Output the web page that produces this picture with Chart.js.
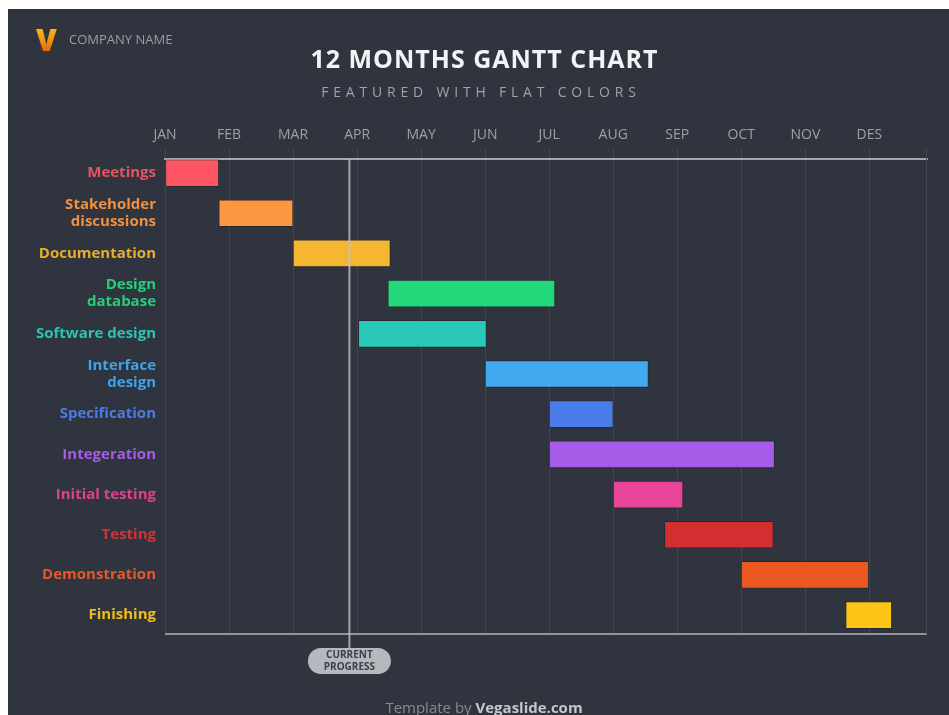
<!DOCTYPE html>
<html>
<head>
<meta charset="utf-8">
<title>12 Months Gantt Chart</title>
<script src="https://cdn.jsdelivr.net/npm/chart.js@4.4.1/dist/chart.umd.min.js"></script>
<style>
    html, body { margin: 0; padding: 0; background: #fff; }
    body { width: 949px; height: 715px; position: relative; overflow: hidden; font-family: "Open Sans", sans-serif; }
    #panel { position: absolute; left: 8px; top: 9px; right: 0; bottom: 0; background: #2f343f; }
    #chart { position: absolute; left: 0; top: 0; }
    .logo {
        position: absolute; left: 36px; top: 25px; font: 800 30px/1 "Open Sans", sans-serif;
        background: linear-gradient(180deg, #ffc21a 0%, #f08a0c 60%, #d9560a 100%);
        -webkit-background-clip: text; background-clip: text; color: transparent;
    }
    .company { position: absolute; left: 69px; top: 33px; font: 400 13px/1 "Open Sans", sans-serif; color: #9a9ea6; }
    .title { position: absolute; left: 0; width: 969px; top: 46px; text-align: center; font: 700 25px/1 "Open Sans", sans-serif; letter-spacing: 1px; color: #f2f3f5; }
    .subtitle { position: absolute; left: 0; width: 962px; top: 85px; text-align: center; font: 400 14px/1 "Open Sans", sans-serif; letter-spacing: 4.8px; color: #9ea2a9; }
    .footer { position: absolute; left: 0; width: 968px; top: 700px; text-align: center; font: 400 15px/1 "Open Sans", sans-serif; color: #868b93; }
    .footer b { color: #c4c8cc; font-weight: 700; }
</style>
</head>
<body>
<div id="panel"></div>
<canvas id="chart" width="949" height="715"></canvas>
<div class="logo">V</div>
<div class="company">COMPANY NAME</div>
<div class="title">12 MONTHS GANTT CHART</div>
<div class="subtitle">FEATURED WITH FLAT COLORS</div>
<div class="footer">Template by <b>Vegaslide.com</b></div>
<script>
// months along the top, 0 = start of January
const MONTHS = ['JAN', 'FEB', 'MAR', 'APR', 'MAY', 'JUN', 'JUL', 'AUG', 'SEP', 'OCT', 'NOV', 'DES'];

const TASKS = [
    'Meetings', ['Stakeholder', 'discussions'], 'Documentation', ['Design', 'database'],
    'Software design', ['Interface', 'design'], 'Specification', 'Integeration',
    'Initial testing', 'Testing', 'Demonstration', 'Finishing'
];

// start / end in months
const TASK_START = [0, 0.84, 2.0, 3.48, 3.02, 5.0, 6.0, 6.0, 7.0, 7.8, 9.0, 10.63];
const TASK_END = [0.84, 2.0, 3.52, 6.09, 5.02, 7.55, 7.0, 9.52, 8.09, 9.5, 10.99, 11.35];

const BAR_COLORS = [
    '#fe5664', '#fc9641', '#f5b731', '#22d87a', '#28c9b9', '#43aaf1',
    '#4a7de9', '#a55ce9', '#e7449a', '#d32f31', '#ec5822', '#fec418'
];
const LABEL_COLORS = [
    '#e9525f', '#f0913f', '#e8ad2c', '#24cf78', '#2bc4b3', '#3fa3ea',
    '#4b7be4', '#a45de4', '#df418e', '#d23333', '#e4592a', '#f0be1b'
];

const CURRENT_PROGRESS = 2.88;

const GRID_COLOR = '#404652';
const AXIS_COLOR = '#a4a8ae';


const ganttExtras = {
    id: 'ganttExtras',
    beforeDatasetsDraw(chart) {
        const { ctx, chartArea: area } = chart;
        ctx.save();
        // bottom frame line
        ctx.strokeStyle = '#8f949b';
        ctx.lineWidth = 2;
        ctx.beginPath();
        ctx.moveTo(area.left, area.bottom);
        ctx.lineTo(area.right, area.bottom);
        ctx.stroke();
        // right edge line
        ctx.strokeStyle = GRID_COLOR;
        ctx.lineWidth = 1;
        ctx.beginPath();
        ctx.moveTo(area.right - 0.5, area.top - 10);
        ctx.lineTo(area.right - 0.5, area.bottom);
        ctx.stroke();
        ctx.restore();
    },
    afterDatasetsDraw(chart) {
        const { ctx, chartArea: area } = chart;
        const x = chart.scales.x.getPixelForValue(CURRENT_PROGRESS);
        const pillTop = area.bottom + 14;
        const pillW = 83, pillH = 26;

        ctx.save();
        ctx.strokeStyle = 'rgba(190, 194, 198, 0.8)';
        ctx.lineWidth = 2;
        ctx.beginPath();
        ctx.moveTo(x, area.top);
        ctx.lineTo(x, pillTop);
        ctx.stroke();

        ctx.fillStyle = '#b4b9be';
        ctx.beginPath();
        ctx.roundRect(x - pillW / 2, pillTop, pillW, pillH, pillH / 2);
        ctx.fill();

        ctx.fillStyle = '#3b404a';
        ctx.font = '700 10px "Open Sans", sans-serif';
        ctx.textAlign = 'center';
        ctx.textBaseline = 'middle';
        ctx.fillText('CURRENT', x, pillTop + 7.5);
        ctx.fillText('PROGRESS', x, pillTop + 19);
        ctx.restore();
    }
};


const ctx = document.getElementById('chart').getContext('2d');
new Chart(ctx, {
    type: 'bar',
    data: {
        datasets: [{
            data: TASKS.map((_, i) => ({ x: [TASK_START[i], TASK_END[i]], y: i })),
            backgroundColor: BAR_COLORS,
            borderColor: 'rgba(0, 0, 0, 0.22)',
            borderWidth: 1,
            borderSkipped: false,
            barThickness: 27
        }]
    },
    options: {
        indexAxis: 'y',
        responsive: false,
        animation: false,
        layout: { padding: { left: 0, top: 0, right: 22, bottom: 81 } },
        plugins: {
            legend: { display: false },
            tooltip: { enabled: false }
        },
        scales: {
            x: {
                type: 'linear',
                position: 'top',
                min: 0,
                max: 11.9,
                afterBuildTicks: (scale) => {
                    scale.ticks = MONTHS.map((_, i) => ({ value: i }));
                },
                afterFit: (scale) => { scale.height = 159; },
                ticks: {
                    callback: (value) => MONTHS[value],
                    color: '#9ca0a7',
                    font: { family: '"Open Sans", sans-serif', size: 14 },
                    padding: 6,
                    maxRotation: 0,
                    autoSkip: false
                },
                grid: {
                    color: GRID_COLOR,
                    lineWidth: 1,
                    drawTicks: true,
                    tickLength: 10
                },
                border: { color: AXIS_COLOR, width: 2 }
            },
            y: {
                type: 'linear',
                reverse: true,
                offset: false,
                min: -0.35,
                max: 11.47,
                afterBuildTicks: (scale) => {
                    scale.ticks = TASKS.map((_, i) => ({ value: i }));
                },
                afterFit: (scale) => { scale.width = 165; },
                ticks: {
                    callback: (value) => TASKS[value],
                    color: (c) => LABEL_COLORS[c.index],
                    font: { family: '"Open Sans", sans-serif', size: 15, weight: '700', lineHeight: 1.13 },
                    padding: 9,
                    autoSkip: false
                },
                grid: { display: false, drawTicks: false, offset: false },
                border: { display: false }
            }
        }
    },
    plugins: [ganttExtras]
});
</script>
</body>
</html>
